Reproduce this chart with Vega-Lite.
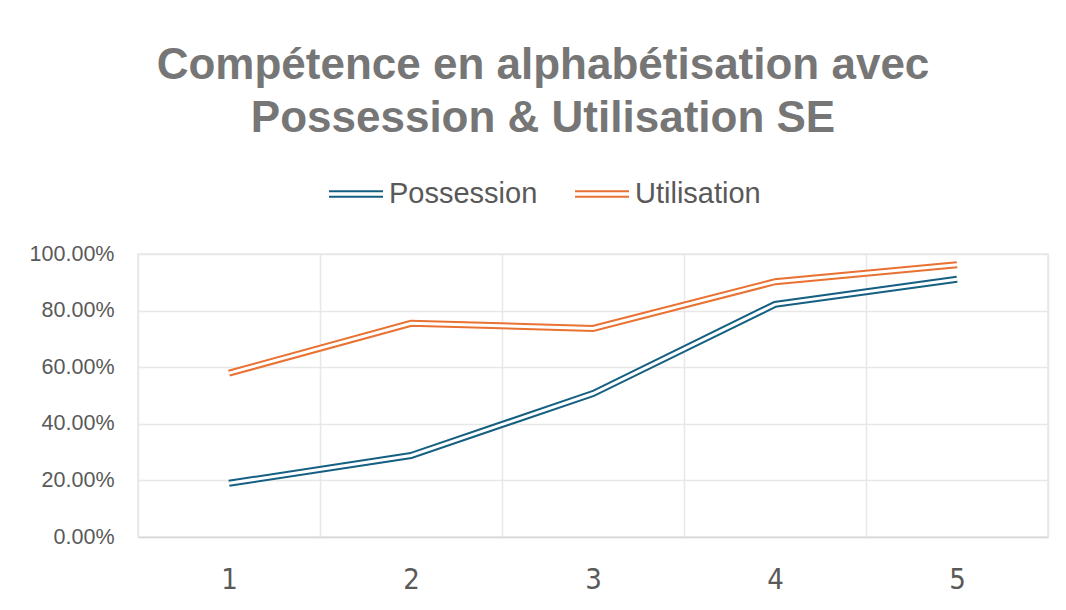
{
  "$schema": "https://vega.github.io/schema/vega-lite/v6.json",
  "autosize": "none",
  "width": 910,
  "height": 283,
  "padding": {"left": 138, "top": 254, "right": 18, "bottom": 73},
  "background": "white",
  "title": {
    "text": ["Compétence en alphabétisation avec", "Possession & Utilisation SE"],
    "font": "Liberation Sans",
    "fontSize": 44,
    "fontWeight": "bold",
    "color": "#767676",
    "anchor": "middle",
    "dx": -50,
    "lineHeight": 53,
    "offset": 25
  },
  "data": {
    "values": [
      {"x": "1", "series": "Possession", "value": 0.19},
      {"x": "2", "series": "Possession", "value": 0.288},
      {"x": "3", "series": "Possession", "value": 0.507},
      {"x": "4", "series": "Possession", "value": 0.822},
      {"x": "5", "series": "Possession", "value": 0.911},
      {"x": "1", "series": "Utilisation", "value": 0.579},
      {"x": "2", "series": "Utilisation", "value": 0.755},
      {"x": "3", "series": "Utilisation", "value": 0.737},
      {"x": "4", "series": "Utilisation", "value": 0.902},
      {"x": "5", "series": "Utilisation", "value": 0.962}
    ]
  },
  "encoding": {
    "x": {
      "field": "x",
      "type": "ordinal",
      "bandPosition": 0.5,
      "scale": {"type": "band", "paddingInner": 0, "paddingOuter": 0},
      "axis": {
        "title": null,
        "tickBand": "extent",
        "grid": true,
        "gridColor": "#e8e8e8",
        "gridWidth": 1.5,
        "ticks": false,
        "domain": true,
        "domainColor": "#d9d9d9",
        "domainWidth": 1.5,
        "labelAngle": 0,
        "labelFont": "DejaVu Sans Condensed, Roboto, sans-serif",
        "labelFontSize": 29,
        "labelColor": "#595959",
        "labelPadding": 28
      }
    },
    "y": {
      "field": "value",
      "type": "quantitative",
      "scale": {"domain": [0, 1], "nice": false},
      "axis": {
        "title": null,
        "values": [0, 0.2, 0.4, 0.6, 0.8, 1],
        "format": ".2%",
        "grid": true,
        "gridColor": "#e8e8e8",
        "gridWidth": 1.5,
        "ticks": false,
        "domain": false,
        "labelFont": "Liberation Sans",
        "labelFontSize": 21.5,
        "labelColor": "#595959",
        "labelPadding": 24
      }
    }
  },
  "layer": [
    {
      "mark": {"type": "line", "strokeWidth": 7, "strokeJoin": "miter"},
      "encoding": {
        "color": {
          "field": "series",
          "type": "nominal",
          "scale": {"domain": ["Possession", "Utilisation"], "range": ["#156082", "#E97132"]},
          "legend": {
            "title": null,
            "orient": "none",
            "direction": "horizontal",
            "legendX": 190,
            "legendY": -88,
            "symbolType": "M-1,-0.1H1M-1,0.1H1",
            "symbolSize": 2916,
            "symbolStrokeWidth": 2,
            "labelFont": "Liberation Sans",
            "labelFontSize": 29,
            "labelColor": "#595959",
            "labelOffset": 5,
            "columnPadding": 33
          }
        }
      }
    },
    {
      "mark": {"type": "line", "strokeWidth": 3, "color": "white", "strokeJoin": "miter"},
      "encoding": {"detail": {"field": "series", "type": "nominal"}}
    }
  ],
  "config": {
    "view": {"stroke": "#e8e8e8", "strokeWidth": 1.5}
  }
}
